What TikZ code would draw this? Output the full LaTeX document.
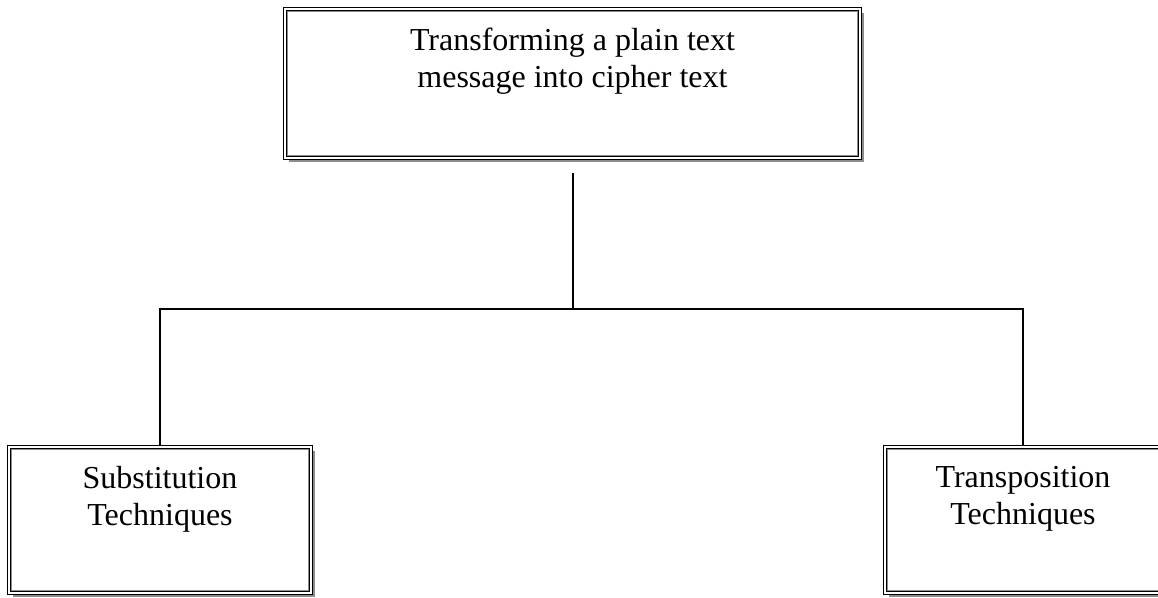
\documentclass[tikz,border=0pt]{standalone}
\usepackage{fontspec}
\setmainfont{Liberation Serif}
\usetikzlibrary{shadows}
\begin{document}
\begin{tikzpicture}[x=1pt,y=-1pt,
  framebox/.style={draw=black, line width=1.3pt, double=white, double distance=1.1pt,
    fill=white, inner sep=0pt, rectangle,
    drop shadow={shadow xshift=4pt, shadow yshift=-4pt, fill=black!45, opacity=1}},
  innerline/.style={draw=black!45, line width=1pt},
  label/.style={inner sep=0pt, align=center, anchor=north,
    font=\fontsize{32}{37}\selectfont},
  wire/.style={draw=black, line width=1.6pt}]
  \useasboundingbox (0,0) rectangle (1158,597);
  \clip (0,0) rectangle (1158,597);

  % boxes
  \node[framebox, minimum width=575pt, minimum height=149pt] (top) at (572.5,83.5) {};
  \node[framebox, minimum width=302pt, minimum height=146pt] (sub) at (160,520) {};
  \node[framebox, minimum width=276pt, minimum height=146pt] (trans) at (1023,520) {};

  % grey inner rule of each frame
  \foreach \b in {top,sub,trans}
    \draw[innerline] ([shift={(2.9pt,-2.9pt)}]\b.north west) rectangle ([shift={(-2.9pt,2.9pt)}]\b.south east);

  % box captions
  \node[label] (toptext) at ([yshift=-19pt]top.north) {Transforming a plain text\\message into cipher text};
  \node[label] (subtext) at ([yshift=-20pt]sub.north) {Substitution\\Techniques};
  \node[label] (transtext) at ([yshift=-20pt]trans.north) {Transposition\\Techniques};

  % tree connectors
  \coordinate (stem) at (573,173);
  \coordinate (bar) at (573,309);
  \draw[wire] (stem) -- (bar);
  \draw[wire] (sub.north) |- (bar) -| (trans.north);
\end{tikzpicture}
\end{document}
